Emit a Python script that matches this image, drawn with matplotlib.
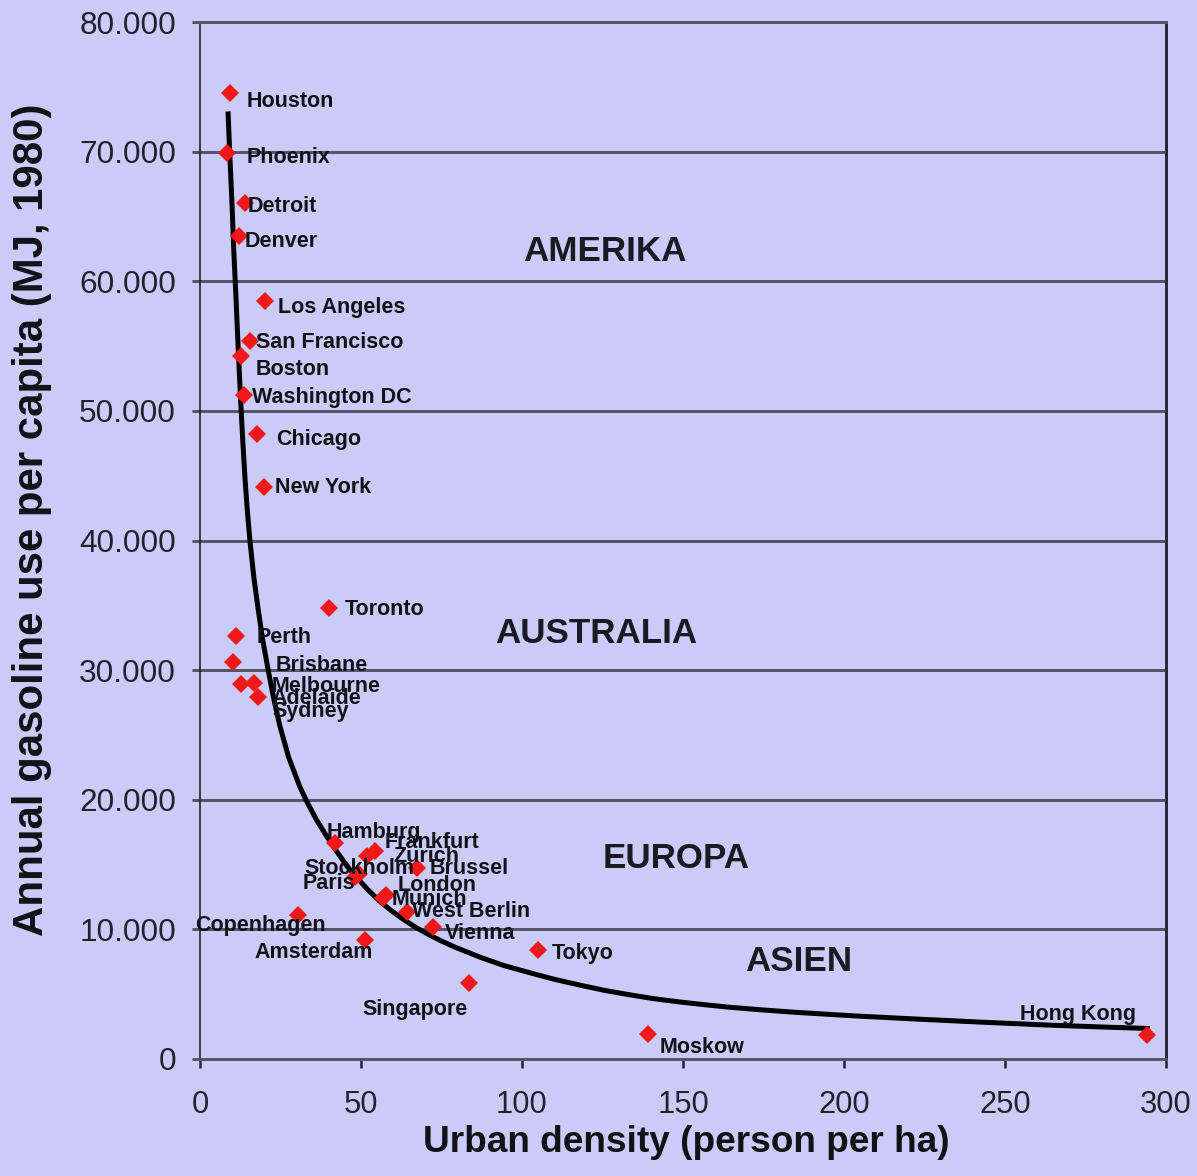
import matplotlib
matplotlib.use("Agg")
import matplotlib.pyplot as plt
from matplotlib.ticker import FuncFormatter, MultipleLocator

# ---------------- data ----------------
cities = ["Houston", "Phoenix", "Detroit", "Denver", "Los Angeles", "San Francisco",
          "Boston", "Washington DC", "Chicago", "New York", "Toronto",
          "Perth", "Brisbane", "Adelaide", "Melbourne", "Sydney",
          "Hamburg", "Frankfurt", "Zurich", "Brussel", "Stockholm", "Paris",
          "London", "Munich", "West Berlin", "Vienna", "Copenhagen", "Amsterdam",
          "Tokyo", "Singapore", "Moskow", "Hong Kong"]
density = [9.3, 8.4, 14.0, 12.1, 20.2, 15.5,
           12.7, 13.7, 17.7, 19.9, 40.0,
           11.2, 10.2, 12.7, 16.8, 18.0,
           41.9, 54.3, 51.9, 67.4, 49.4, 48.1,
           57.8, 56.8, 64.3, 72.4, 30.4, 51.2,
           105.0, 83.5, 139.1, 294.1]
gasoline = [74500, 69900, 66000, 63500, 58500, 55400,
            54200, 51200, 48200, 44100, 34800,
            32600, 30600, 28900, 29000, 27900,
            16700, 16050, 15650, 14750, 14250, 14050,
            12650, 12400, 11350, 10200, 11100, 9200,
            8400, 5850, 1900, 1850]

# trend curve
curve_x = [8.7, 9.3, 9.9, 10.5, 11.2, 11.9, 12.6, 13.3, 14.0, 14.7, 15.5, 16.7, 18.0,
           19.5, 21.1, 22.9, 24.8, 27.5, 31.0, 33.5, 36.3, 39.3, 42.5, 45.6, 49.0,
           52.4, 55.9, 59.4, 63.0, 67.0, 71.4, 75.0, 79.0, 83.0, 87.0, 94.5, 102.5,
           110.0, 118.0, 125.5, 133.5, 141.0, 149.0, 157.0, 165.0, 175.0, 185.0,
           203.0, 221.0, 242.0, 263.0, 280.0, 295.0]
curve_y = [73100, 69500, 66200, 62300, 58600, 54600, 50900, 47600, 44700, 42300, 40000,
           37200, 34800, 32300, 30100, 27800, 25700, 23300, 21000, 19700, 18400, 17200,
           16000, 14900, 13900, 13000, 12150, 11450, 10800, 10150, 9550, 9100, 8650,
           8250, 7850, 7200, 6650, 6150, 5700, 5300, 4950, 4650, 4400, 4180, 3980,
           3780, 3600, 3330, 3100, 2850, 2620, 2470, 2350]

regions = ["AMERIKA", "AUSTRALIA", "EUROPA", "ASIEN"]
region_x = [125.8, 123.0, 147.8, 186.0]
region_y = [62300, 32800, 15500, 7500]

x_ticks = [0, 50, 100, 150, 200, 250, 300]
y_ticks = [0, 10000, 20000, 30000, 40000, 50000, 60000, 70000, 80000]

# label offsets in pixels (dx right, dy down)
label_dx = [17, 20, 3, 6, 13, 6,
            15, 8, 19, 11, 16,
            21, 43, 31, 18, 14,
            -8, 10, 26, 13, -55, -52,
            12, 9, 5, 12, -103, -110,
            14, -106, 12, -127]
label_dy = [8, 5, 3, 6, 7, 2,
            13, 2, 5, 0, 2,
            1, 3, 14, 3, 14,
            -10, -8, 0, 1, -6, 7,
            -10, 1, 0, 7, 10, 13,
            3, 26, 13, -21]

# ---------------- styling ----------------
BG = "#CBCBF7"
GRID = "#55556A"
plt.rcParams["font.family"] = ["Liberation Sans", "DejaVu Sans"]

W, H, DPI = 1197, 1176, 72
fig = plt.figure(figsize=(W / DPI, H / DPI), dpi=DPI, facecolor=BG)
ax = fig.add_axes([200 / W, 1 - 1059 / H, 966 / W, 1037 / H], facecolor=BG)

ax.set_xlim(0, 300)
ax.set_ylim(0, 80000)

ax.xaxis.set_major_locator(MultipleLocator(50))
ax.set_yticks(y_ticks)
ax.set_xticks(x_ticks)
ax.yaxis.set_major_formatter(FuncFormatter(lambda v, p: f"{int(v):,}".replace(",", ".")))
ax.yaxis.grid(True, color=GRID, linewidth=3, zorder=1)
ax.set_axisbelow(True)

ax.tick_params(axis="y", direction="out", length=8, width=3, color=GRID,
               labelsize=31.5, labelcolor="#22222E", pad=16)
ax.tick_params(axis="x", direction="out", length=9, width=2.5, color="#22223A",
               labelsize=31, labelcolor="#22222E", pad=22)

for s in ["top", "bottom"]:
    ax.spines[s].set_color(GRID)
    ax.spines[s].set_linewidth(3)
ax.spines["left"].set_color("#1A1A2A")
ax.spines["left"].set_linewidth(1.6)
ax.spines["right"].set_color("#2A2A3A")
ax.spines["right"].set_linewidth(3)

# trend curve
ax.plot(curve_x, curve_y, color="black", linewidth=5, solid_capstyle="butt",
        solid_joinstyle="round", zorder=3)

# points
ax.plot(density, gasoline, linestyle="none", marker="D", markersize=12.5,
        color="#F01818", markeredgewidth=0, zorder=4)

# city labels
for name, x, y, dx, dy in zip(cities, density, gasoline, label_dx, label_dy):
    ax.annotate(name, (x, y), xytext=(dx, -dy), textcoords="offset points",
                ha="left", va="center", fontsize=21.5, fontweight="bold",
                color="#111118", zorder=5)

# region labels
for name, x, y in zip(regions, region_x, region_y):
    ax.text(x, y, name, ha="center", va="center", fontsize=35, fontweight="bold",
            color="#1A1A22", zorder=5)

# axis titles
fig.text(686 / W, 1 - 1142 / H, "Urban density (person per ha)", ha="center", va="center",
         fontsize=37, fontweight="bold", color="#111118")
fig.text(32 / W, 1 - 520 / H, "Annual gasoline use per capita (MJ, 1980)", ha="center",
         va="center", rotation=90, fontsize=42, fontweight="bold", color="#111118")

fig.savefig("out.png", dpi=DPI, facecolor=BG)
